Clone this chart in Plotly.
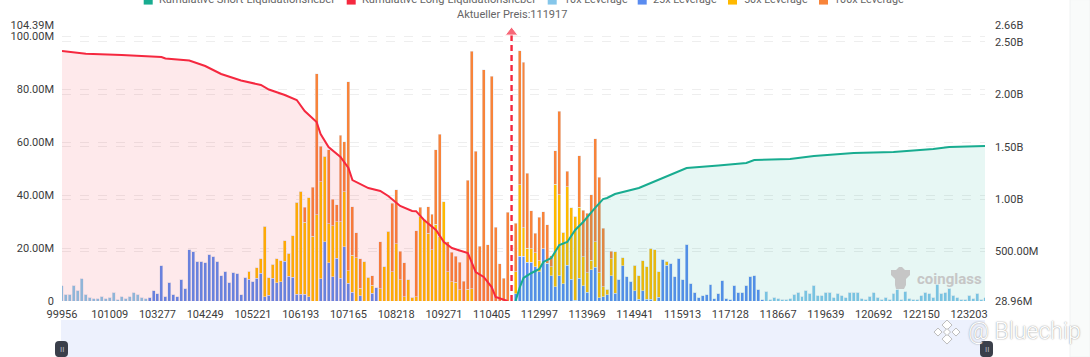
import plotly.graph_objects as go

W, H = 1090, 357
L, R, T, B = 62, 985, 25.4, 301

tick_labels = ["99956", "101009", "103277", "104249", "105221", "106193", "107165",
               "108218", "109271", "110405", "112997", "113969", "114941", "115913",
               "117128", "118667", "119639", "120692", "122150", "123203"]
tick_every = 12
bar_count = 233
current_price_label = "Aktueller Preis:111917"
current_price_bin = 113
current_price_arrow = [0, 101.6e6]

leverage_10x = [5.7, 2.5, 2.5, 5.9, 4.0, 8.5, 2.5, 1.4, 0.9, 0.9,
                1.8, 0.9, 1.4, 3.3, 0.5, 1.6, 1.0, 1.6, 3.2, 2.6,
                1.4, 0.9] + [0] * 155 + [
                3.7, .5, 1.4, .8, .6, .6, .8, 2.5, 3.3, 1.8, 4, 2.9, 5.9, 2, 2, 3.3,
                3.3, 1.3, 2.9, 2, 1.3, 3.3, 3.3, 3.3, .9, .6, 1.8, 3.2, 1.5, .6, 1.4, .6,
                2.7, 4.3, .4, 3.5, .9, .6, .4, 2, 3.4, 2.7, 1.4, 6.3, 2.9, 3.2, 4.9, 2.1,
                1.3, .6, .6, 2.1, .9, 2.9, .6, 1.3]

leverage_25x = [0] * 20 + [
    0, 0, 1.4, 3.8, 2.8, 13.4, 1.8, 7.1, 2.6, 1.6,
    8.2, 4.8, 19.4, 18.6, 15, 15, 14.4, 17.7, 16.9, 15,
    9.6, 11.2, 7.1, 10.9, 10.5, 2.4, 9, 8.3, 7.5, 8.7,
    10.5, 1.6, 2.1, 8.7, 6.9, 7.3, 15, 9.3, 9, 2.6,
    2.5, 2.5, 1.7, 0, 0, 8.5, 22.5, 14.4, 9.1, 16.2,
    8.7, 20.5, 6.7, 3.3, 0, 1.9, 0, 0, 2.9, 5] + [0] * 30 + [
    0, 0, 0, 0, 2.7, 17, 17, 14.7, 14.7, 12.9,
    11.1, 19.7, 14.3, 9.5, 5.4, 9.5, 6.6, 13.6, 8.3, .3,
    8.6, 5.8, 3.4, 11.9, 12.8, 1.3, 1.7, 2.4, 9.5, 3,
    8.3, 13.4, 9.1, 7.5, 3.8, .6, 3.8, .6, .6, 0,
    1.5, 15.7, 13.5, 14.3, 9.2, 16.2, 8, 21.5, 6.7, 3.4,
    1.5, 2, 2.4, 6.2, .8, 2.9, 7.6, 1, .6, 5.9,
    3.4, 3.4, 5.9, 9.3, 9.6, 4.4, .5] + [0] * 56

leverage_50x = [0] * 47 + [2.9, 0, 3.9,
    5.5, 26.7, 6.7, 5.2, 9, 8, 7.7, 8.7, 15.7, 34.7,
    39.1, 27.2, 37.3, 24.4, 32.7, 36.6, 32.2, 14.8, 19.4, 13.8,
    21.3, 20.8, 4.7, 14.1, 16.4, 2.9, 14.9, 8.9, 3.1, 0,
    4.7, 12.9, 26.3, 11, 21.6, 8, 1.7, 8, 1.5, 1.6,
    32, 31, 25.6, 19.3, 29, 24.4, 37.6, 11, 7.3, 7.1,
    4.2, 0, 4.5, 4.7, 0, 0, 0, 0, 0, 0,
    0, 0, 0, 0, 8.4, 27, 10.8, 5.3, 5, 5.3,
    4.1, 0, 0, 3.5, 38.8, 30.7, 19.4, 29.7, 26.9, 31.7,
    26.9, 10.9, 7.3, 3.6, 9.7, 9.3, 3.6, 2, 6.4, 15.7,
    0, 3, 0, 0, 9.8, 8.9, 11.5, 12.3, 19.4, 19.3,
    9.5, 0, 1.5] + [0] * 80

leverage_100x = [0] * 60 + [
    0, 5.8, 0, 18.6, 53.3, 13.4, 0, 28, 10, 6.4,
    32.6, 18.9, 71.5, 18.3, 9.4, 11.1, 0, 0, 3.6, 0,
    17.8, 0, 0, 26, 20.4, 10.9, 12.7, 0, 0, 24.9,
    3.4, 0, 10, 13.5, 28.3, 38.6, 0, 11.5, 11.1, 9.9,
    10.4, 7.5, 41.2, 89.8, 56.6, 20.7, 87.5, 21.2, 85.1, 27.9,
    14.1, 8.7, 33.6, 0, 18.3, 50.7, 62.5, 28.4, 14.5, 7.4,
    16.5, 14.1, 14.5, 4.2, 12.6, 31.5, 0, 5.7, 0, 0,
    19.5, 17.7, 22.5, 24.7, 38.8, 36.3, 22.2, 0, 3, 0] + [0] * 93

long_bins = [0, 6, 15, 25, 26, 32, 36, 40, 45, 50, 52, 56, 59, 61, 64, 65, 67, 70, 72, 73,
             77, 80, 82, 85, 88, 89, 91, 94, 96, 98, 102, 104, 106, 108, 109, 112]
long_cum = [2412, 2386, 2374, 2355, 2341, 2322, 2269, 2193, 2131, 2088, 2045, 1993, 1945,
            1840, 1735, 1621, 1497, 1402, 1297, 1182, 1106, 1078, 1030, 935, 887, 885,
            801, 706, 591, 534, 487, 305, 258, 162, 67, 29]

short_bins = [114, 115, 116, 118, 120, 121, 123, 125, 127, 129, 131, 132, 134, 136, 137, 139,
              142, 145, 148, 153, 156, 157, 165, 172, 174, 183, 189, 199, 209, 219, 223, 232]
short_cum = [29, 153, 248, 296, 334, 401, 439, 563, 591, 706, 782, 830, 916, 1001, 1011, 1049,
             1078, 1106, 1154, 1230, 1278, 1297, 1321, 1345, 1373, 1383, 1411, 1440, 1449,
             1478, 1497, 1507]

left_ticks = [0, 20e6, 40e6, 60e6, 80e6, 100e6, 104.39e6]
left_labels = ["0", "20.00M", "40.00M", "60.00M", "80.00M", "100.00M", "104.39M"]
right_ticks = [28.96e6, 500e6, 1e9, 1.5e9, 2e9, 2.5e9, 2.66e9]
right_labels = ["28.96M", "500.00M", "1.00B", "1.50B", "2.00B", "2.50B", "2.66B"]

SHORT, LONG = "#18ac90", "#f5283f"
C10, C25, C50, C100 = "#85c6ea", "#5a8cf0", "#ffb900", "#f8843a"
FONT = "Roboto"

legend_names = ["Kumulative Short-Liquidationshebel", "Kumulative Long-Liquidationshebel",
                "10x Leverage", "25x Leverage", "50x Leverage", "100x Leverage"]
legend_colors = [SHORT, LONG, C10, C25, C50, C100]
legend_swatch_left = [143.7, 346.7, 547.7, 637.7, 728, 819]
legend_text_left = [157.5, 361, 562.5, 652, 742.5, 833]
legend_text_size = [11.1, 11.1, 10.8, 10.8, 10.8, 10.8]


def px(x):
    return (x - L) / (R - L)


def py(y):
    return (B - y) / (B - T)


bins = list(range(bar_count))
fig = go.Figure()

for name, vals, color in [("10x Leverage", leverage_10x, C10),
                          ("25x Leverage", leverage_25x, C25),
                          ("50x Leverage", leverage_50x, C50),
                          ("100x Leverage", leverage_100x, C100)]:
    fig.add_trace(go.Bar(x=bins, y=[v * 1e6 for v in vals], name=name, marker_color=color,
                         cliponaxis=False, yaxis="y", showlegend=False))

fig.add_trace(go.Scatter(x=long_bins, y=[v * 1e6 for v in long_cum], mode="lines", yaxis="y2",
                         name="Kumulative Long-Liquidationshebel",
                         line=dict(color=LONG, width=2), fill="tozeroy",
                         fillcolor="rgba(245,40,63,0.10)", showlegend=False))
fig.add_trace(go.Scatter(x=short_bins, y=[v * 1e6 for v in short_cum], mode="lines", yaxis="y2",
                         name="Kumulative Short-Liquidationshebel",
                         line=dict(color=SHORT, width=2), fill="tozeroy",
                         fillcolor="rgba(24,172,144,0.10)", showlegend=False))
fig.add_trace(go.Scatter(x=[current_price_bin, current_price_bin], y=current_price_arrow,
                         mode="lines+markers", yaxis="y", showlegend=False,
                         line=dict(color=LONG, width=2.4, dash="6px,4px"),
                         marker=dict(symbol="triangle-up", size=[0, 11], color=LONG)))

shapes = [
    dict(type="rect", xref="paper", yref="paper", x0=px(61), x1=px(985), y0=py(320), y1=py(357),
         fillcolor="#edf1fd", line_width=0, layer="below"),
    dict(type="rect", xref="paper", yref="paper", x0=px(1070), x1=px(1090), y0=py(0), y1=py(357),
         fillcolor="#f9fbfa", line=dict(color="#f0f2f2", width=1), layer="below"),
]


def rounded(x0, y0, x1, y1, r):
    return (f"M{px(x0 + r)},{py(y0)} L{px(x1 - r)},{py(y0)} Q{px(x1)},{py(y0)} {px(x1)},{py(y0 + r)} "
            f"L{px(x1)},{py(y1 - r)} Q{px(x1)},{py(y1)} {px(x1 - r)},{py(y1)} "
            f"L{px(x0 + r)},{py(y1)} Q{px(x0)},{py(y1)} {px(x0)},{py(y1 - r)} "
            f"L{px(x0)},{py(y0 + r)} Q{px(x0)},{py(y0)} {px(x0 + r)},{py(y0)} Z")


annotations = [
    dict(text=current_price_label, x=current_price_bin, xref="x", y=py(15), yref="paper",
         showarrow=False, font=dict(family=FONT, size=11, color="#666666"),
         xanchor="center", yanchor="middle"),
    dict(text="coinglass", x=px(949), xref="paper", y=py(279), yref="paper", showarrow=False,
         font=dict(family=FONT, size=15, color="#c6c6c6", weight=700),
         xanchor="center", yanchor="middle"),
    dict(text="@ Bluechip", x=px(1024), xref="paper", y=py(331), yref="paper", showarrow=False,
         font=dict(family=FONT, size=23, color="#ffffff", weight=300,
                   shadow="0 0 1.5px #777777"), xanchor="center", yanchor="middle"),
]

for name, color, sx, tx, size in zip(legend_names, legend_colors, legend_swatch_left,
                                     legend_text_left, legend_text_size):
    shapes.append(dict(type="rect", xref="paper", yref="paper", x0=px(sx), x1=px(sx + 9),
                       y0=py(-4), y1=py(5), fillcolor=color, line_width=0))
    annotations.append(dict(text=name, x=px(tx), xref="paper", y=py(0), yref="paper",
                            showarrow=False, xanchor="left", yanchor="middle", xshift=-1,
                            font=dict(family=FONT, size=size, color="#666666")))

for hx in (61.5, 986.5):
    shapes.append(dict(type="path", xref="paper", yref="paper",
                       path=rounded(hx - 6.5, 341, hx + 6.5, 357, 4),
                       fillcolor="#3a3f4a", line_width=0))
    annotations.append(dict(text="II", x=px(hx), xref="paper", y=py(349), yref="paper",
                            showarrow=False, xanchor="center", yanchor="middle",
                            font=dict(family=FONT, size=8, color="#b8bcc4")))

# coinglass mark
blob = [(891, 270), (896, 270), (899, 267), (902, 267), (905, 270), (910, 270), (910, 275),
        (906, 279), (906, 285), (904, 289), (896, 289), (895, 285), (895, 279), (891, 275)]
shapes.append(dict(type="path", xref="paper", yref="paper", fillcolor="#c6c6c6", line_width=0,
                   path="M" + " L".join(f"{px(a)},{py(b)}" for a, b in blob) + " Z"))

# binance mark
for cx, cy, r in [(947, 325, 5), (947, 339, 5), (938, 332, 4), (956, 332, 4), (947, 332, 3.5)]:
    pts = [(cx, cy - r), (cx + r, cy), (cx, cy + r), (cx - r, cy)]
    shapes.append(dict(type="path", xref="paper", yref="paper", fillcolor="#ffffff",
                       line=dict(color="#bdbdbd", width=1),
                       path="M" + " L".join(f"{px(a)},{py(b)}" for a, b in pts) + " Z"))

grid = dict(showgrid=True, gridcolor="#eeeeee", griddash="dash", gridwidth=1, zeroline=False,
            showline=False, ticks="")
tick_font = dict(family=FONT, size=11, color="#3c3c3c")

fig.update_layout(
    width=W, height=H, barmode="stack", bargap=0.25, showlegend=False,
    paper_bgcolor="white", plot_bgcolor="white", hovermode=False,
    margin=dict(l=L, r=W - R, t=T, b=H - B, pad=0, autoexpand=False),
    xaxis=dict(range=[0, bar_count - 1], tickmode="array",
               tickvals=bins[::tick_every], ticktext=tick_labels, showgrid=False, zeroline=False,
               showline=False, ticks="", tickfont=tick_font, ticklabelstandoff=5, tickangle=0),
    yaxis=dict(range=[0, left_ticks[-1]], tickmode="array", tickvals=left_ticks,
               ticktext=left_labels, tickfont=tick_font, ticklabelstandoff=7, **grid),
    yaxis2=dict(range=[right_ticks[0], right_ticks[-1]], tickmode="array", tickvals=right_ticks,
                ticktext=right_labels, tickfont=tick_font, overlaying="y", side="right",
                ticklabelstandoff=9, **grid),
    shapes=shapes, annotations=annotations,
)

fig.write_html("out.html", config={"displayModeBar": False},
               post_script="document.body.style.margin='0';document.body.style.overflow='hidden';")
